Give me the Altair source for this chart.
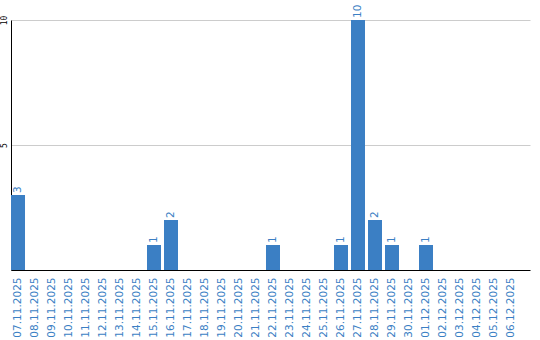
import altair as alt
import pandas as pd

dates = ["07.11.2025","08.11.2025","09.11.2025","10.11.2025","11.11.2025","12.11.2025",
         "13.11.2025","14.11.2025","15.11.2025","16.11.2025","17.11.2025","18.11.2025",
         "19.11.2025","20.11.2025","21.11.2025","22.11.2025","23.11.2025","24.11.2025",
         "25.11.2025","26.11.2025","27.11.2025","28.11.2025","29.11.2025","30.11.2025",
         "01.12.2025","02.12.2025","03.12.2025","04.12.2025","05.12.2025","06.12.2025"]
values = [3,0,0,0,0,0,0,0,1,2,0,0,0,0,0,1,0,0,0,1,10,2,1,0,1,0,0,0,0,0]

df = pd.DataFrame({"date": dates, "value": values})
df["label"] = [str(v) if v > 0 else "" for v in values]

BLUE = "#3b7fc4"
xscale = alt.Scale(paddingInner=0.176, paddingOuter=0.353, align=0)
yscale = alt.Scale(domain=[0, 10], nice=False)
x = alt.X("date:N", sort=dates, title=None, scale=xscale,
          axis=alt.Axis(labelAngle=270, labelColor=BLUE, labelFont="DejaVu Sans",
                        labelFontSize=10.5, ticks=False, labelPadding=7,
                        domainColor="black", domainWidth=1, grid=False))
y = alt.Y("value:Q", title=None, scale=yscale,
          axis=alt.Axis(values=[5, 10], labelAngle=270, labelAlign="center",
                        labelBaseline="bottom", labelFont="DejaVu Sans Mono", labelFontSize=8,
                        labelColor="black", ticks=False, labelPadding=3,
                        domainColor="black", domainWidth=1,
                        grid=True, gridColor="#cccccc", gridWidth=1))

bars = alt.Chart(df).mark_bar(color=BLUE).encode(x=x, y=y)
text = alt.Chart(df).mark_text(angle=270, align="left", baseline="middle", dx=2,
                               color=BLUE, font="DejaVu Sans", fontSize=10.5).encode(
    x=alt.X("date:N", sort=dates),
    y=alt.Y("value:Q"),
    text="label:N")

chart = alt.layer(bars, text).properties(
    width=519, height=250,
    background="white",
    autosize=alt.AutoSizeParams(type="none"),
    padding={"left": 11, "top": 20, "right": 10, "bottom": 70},
).configure_view(stroke=None, strokeWidth=0)

chart.save("out.html", embed_options={"renderer": "svg", "actions": False})
